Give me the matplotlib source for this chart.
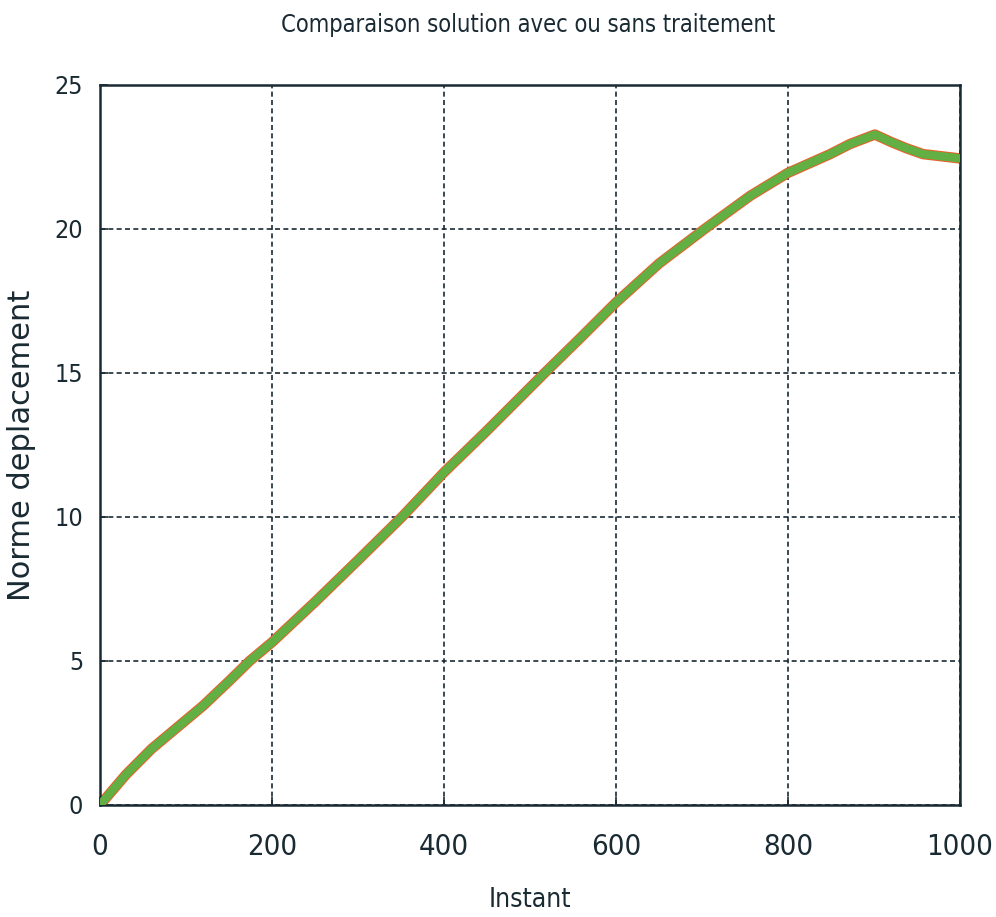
import numpy as np
import matplotlib
matplotlib.use("Agg")
import matplotlib.pyplot as plt

# valeurs
instants = [0, 30, 60, 90, 120, 150, 174, 200, 250, 300, 351, 400, 450, 517, 558, 600, 650, 703,
            756, 800, 849, 872, 901, 920, 938, 957, 1000]
norme_sans = [0, 1.05, 1.95, 2.7, 3.45, 4.3, 5.0, 5.65, 7.05, 8.5, 10.0, 11.55, 13.0, 15.0, 16.2, 17.45,
              18.8, 20.0, 21.15, 21.95, 22.6, 22.95, 23.28, 23.02, 22.8, 22.6, 22.45]
norme_avec = [0, 1.05, 1.95, 2.7, 3.45, 4.3, 5.0, 5.65, 7.05, 8.5, 10.0, 11.55, 13.0, 15.0, 16.2, 17.45,
              18.8, 20.0, 21.15, 21.95, 22.6, 22.95, 23.28, 23.02, 22.8, 22.6, 22.45]
xticks = [0, 200, 400, 600, 800, 1000]
yticks = [0, 5, 10, 15, 20, 25]

narrow = dict(family="DejaVu Sans", stretch="condensed")
encre = "#1a2a33"

fig = plt.figure(figsize=(9.96, 9.17), dpi=100)
ax = fig.add_axes([100/996, 1-805/917, 860/996, 720/917])

ax.plot(instants, norme_sans, color="#e8602a", lw=7.5, solid_capstyle="round", solid_joinstyle="round", zorder=2)
ax.plot(instants, norme_avec, color="#62b043", lw=6, solid_capstyle="round", solid_joinstyle="round", zorder=3)

ax.set_xlim(0, 1000)
ax.set_ylim(0, 25)
ax.set_xticks(xticks)
ax.set_yticks(yticks)
ax.grid(True, color=encre, linestyle=(0, (3, 2)), lw=1.2)
ax.tick_params(direction="in", length=6, width=1.2, color=encre)
ax.tick_params(axis="x", pad=20)
ax.tick_params(axis="y", pad=12)
for s in ax.spines.values():
    s.set_linewidth(1.8)
    s.set_color(encre)

for lab in ax.get_xticklabels():
    lab.set_fontproperties(matplotlib.font_manager.FontProperties(size=21, **narrow))
    lab.set_color(encre)
for lab in ax.get_yticklabels():
    lab.set_fontproperties(matplotlib.font_manager.FontProperties(size=18, **narrow))
    lab.set_color(encre)

fig.text(0.53, 1-25/917, "Comparaison solution avec ou sans traitement", ha="center", va="center",
         fontsize=17, color=encre, **narrow)
fig.text(530/996, 1-900/917, "Instant", ha="center", va="center", fontsize=19, color=encre, **narrow)
fig.text(22/996, 1-445/917, "Norme deplacement", rotation=90, ha="center", va="center",
         fontsize=22, color=encre, family="DejaVu Sans")

fig.savefig("out.png", dpi=100)
